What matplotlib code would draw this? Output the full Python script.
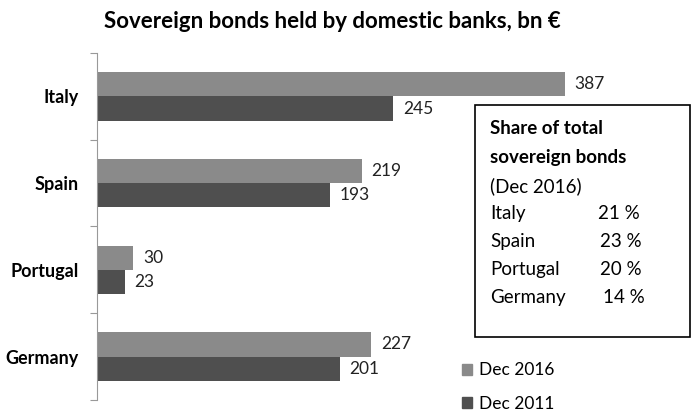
import matplotlib
matplotlib.use("Agg")
import matplotlib.pyplot as plt
from matplotlib.patches import Rectangle, Patch

plt.rcParams["font.family"] = ["Lato", "DejaVu Sans"]

countries = ["Italy", "Spain", "Portugal", "Germany"]
dec_2016 = [387, 219, 30, 227]
dec_2011 = [245, 193, 23, 201]
series_labels = ["Dec 2016", "Dec 2011"]
share_countries = ["Italy", "Spain", "Portugal", "Germany"]
share_values = ["21 %", "23 %", "20 %", "14 %"]

light = "#8a8a8a"
dark = "#4f4f4f"

fig = plt.figure(figsize=(6.94, 4.15), dpi=100)
ax = fig.add_axes([97 / 694, 1 - 400 / 415, (611 - 97) / 694, (400 - 53) / 415])

n = len(countries)
ypos = [n - 1 - i + 0.5 for i in range(n)]
h = 0.28
ax.barh([y + h / 2 for y in ypos], dec_2016, height=h, color=light, label=series_labels[0])
ax.barh([y - h / 2 for y in ypos], dec_2011, height=h, color=dark, label=series_labels[1])

for y, v in zip(ypos, dec_2016):
    ax.text(v + 8, y + h / 2, str(v), va="center", ha="left", fontsize=12.5, color="#222222")
for y, v in zip(ypos, dec_2011):
    ax.text(v + 8, y - h / 2, str(v), va="center", ha="left", fontsize=12.5, color="#222222")

ax.set_xlim(0, (611 - 97) / 1.209)
ax.set_ylim(0, n)
ax.set_yticks(range(n + 1))
ax.set_yticklabels([])
ax.set_yticks(ypos, minor=True)
ax.set_yticklabels(countries, minor=True, fontsize=13, fontweight="bold")
ax.tick_params(axis="y", which="minor", length=0, pad=13)
ax.tick_params(axis="y", which="major", length=5, color="#999999", direction="out")
ax.set_xticks([])
for s in ["top", "right", "bottom"]:
    ax.spines[s].set_visible(False)
ax.spines["left"].set_color("#999999")

fig.text(332 / 694, 1 - 22 / 415, "Sovereign bonds held by domestic banks, bn €",
         ha="center", va="center", fontsize=16, fontweight="bold")

# text box
fig.patches.append(Rectangle((475 / 694, 1 - 337 / 415), (690 - 475) / 694, (337 - 105) / 415,
                             transform=fig.transFigure, fill=False, edgecolor="black", linewidth=1.2))
fig.text(490 / 694, 1 - 128 / 415, "Share of total", fontsize=13.5, fontweight="bold", va="center")
fig.text(490 / 694, 1 - 157 / 415, "sovereign bonds", fontsize=13.5, fontweight="bold", va="center")
fig.text(490 / 694, 1 - 186 / 415, "(Dec 2016)", fontsize=13.5, va="center")
for i, (c, s) in enumerate(zip(share_countries, share_values)):
    yy = 213 + i * 28
    fig.text(490 / 694, 1 - yy / 415, c, fontsize=13.5, va="center")
    fig.text((598 + (2 if i in (1, 2) else 0) + (5 if i == 3 else 0)) / 694, 1 - yy / 415, s,
             fontsize=13.5, va="center")

handles = [Patch(color=light), Patch(color=dark)]
fig.legend(handles, series_labels, loc="center left", bbox_to_anchor=(446 / 694, 1 - 387 / 415),
           frameon=False, fontsize=12.5, handlelength=0.6, handleheight=0.6, handletextpad=0.4,
           labelspacing=1.0)

fig.savefig("out.png", dpi=100)
